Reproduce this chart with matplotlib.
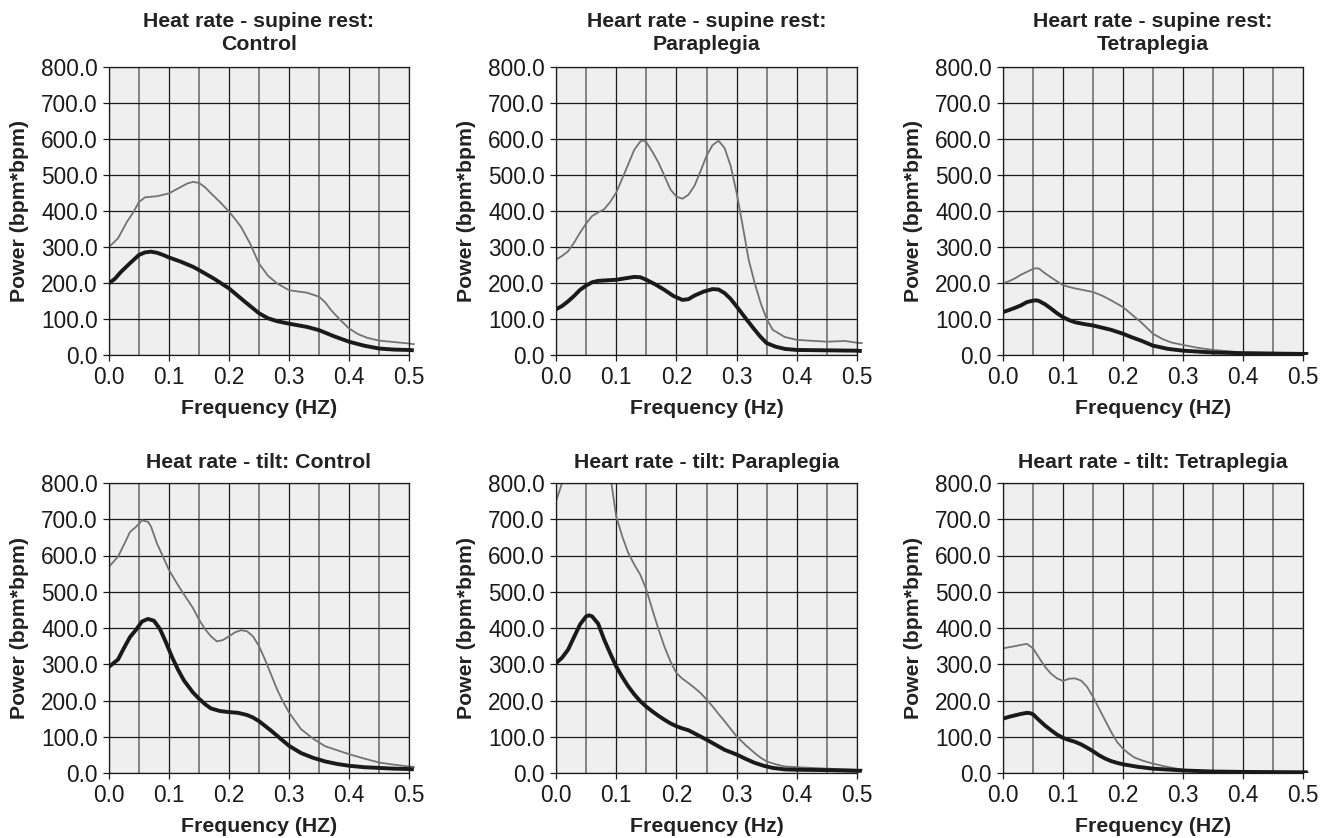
import matplotlib
matplotlib.use("Agg")
import matplotlib.pyplot as plt
from matplotlib.patches import Rectangle
from matplotlib.ticker import MultipleLocator, FormatStrFormatter

plt.rcParams['font.family'] = ['Liberation Sans', 'DejaVu Sans']

# ---------------- data ----------------
titles = [
    "Heat rate - supine rest:\nControl",
    "Heart rate - supine rest:\nParaplegia",
    "Heart rate - supine rest:\nTetraplegia",
    "Heat rate - tilt: Control",
    "Heart rate - tilt: Paraplegia",
    "Heart rate - tilt: Tetraplegia",
]
xlabels = ["Frequency (HZ)", "Frequency (Hz)", "Frequency (HZ)",
           "Frequency (HZ)", "Frequency (Hz)", "Frequency (HZ)"]
ylabel = "Power (bpm*bpm)"
x_ticks = [0.0, 0.1, 0.2, 0.3, 0.4, 0.5]
y_ticks = [0, 100, 200, 300, 400, 500, 600, 700, 800]

# Panel 1: supine rest, Control
p1_gx = [0, 0.015, 0.03, 0.04, 0.05, 0.06, 0.08, 0.1, 0.11, 0.12, 0.13, 0.14, 0.15, 0.16, 0.17, 0.185, 0.2, 0.21, 0.22, 0.235, 0.25, 0.265, 0.28, 0.3, 0.33, 0.35, 0.36, 0.37, 0.385, 0.4, 0.415, 0.43, 0.45, 0.475, 0.5, 0.508]
p1_g = [300, 324, 370, 395, 425, 438, 441, 449, 458, 467, 476, 481, 478, 466, 449, 425, 398, 378, 356, 310, 254, 220, 199, 180, 173, 162, 147, 125, 98, 74, 58, 48, 40, 36, 32, 30]
p1_bx = [0, 0.01, 0.02, 0.035, 0.05, 0.06, 0.07, 0.08, 0.09, 0.1, 0.12, 0.14, 0.15, 0.175, 0.2, 0.225, 0.25, 0.265, 0.28, 0.3, 0.33, 0.35, 0.375, 0.4, 0.425, 0.45, 0.475, 0.5, 0.508]
p1_b = [199, 212, 231, 255, 278, 285, 287, 284, 278, 271, 259, 245, 236, 212, 185, 150, 116, 102, 94, 87, 78, 69, 52, 37, 26, 18, 15, 14, 13]

# Panel 2: supine rest, Paraplegia
p2_gx = [0, 0.01, 0.02, 0.03, 0.04, 0.05, 0.06, 0.07, 0.08, 0.09, 0.1, 0.11, 0.12, 0.13, 0.14, 0.145, 0.15, 0.16, 0.17, 0.18, 0.19, 0.2, 0.21, 0.22, 0.23, 0.24, 0.25, 0.26, 0.27, 0.28, 0.29, 0.3, 0.31, 0.32, 0.33, 0.34, 0.35, 0.36, 0.38, 0.4, 0.45, 0.48, 0.5, 0.508]
p2_g = [265, 275, 288, 312, 340, 365, 386, 396, 405, 425, 451, 490, 530, 570, 593, 596, 591, 565, 535, 498, 460, 440, 434, 445, 470, 510, 553, 583, 595, 575, 526, 451, 360, 265, 200, 144, 100, 70, 50, 42, 37, 39, 34, 33]
p2_bx = [0, 0.01, 0.02, 0.03, 0.04, 0.05, 0.06, 0.07, 0.08, 0.1, 0.115, 0.13, 0.14, 0.15, 0.165, 0.18, 0.195, 0.21, 0.22, 0.23, 0.245, 0.26, 0.27, 0.28, 0.29, 0.3, 0.315, 0.33, 0.34, 0.35, 0.365, 0.38, 0.4, 0.45, 0.5, 0.508]
p2_b = [127, 136, 149, 164, 181, 193, 202, 206, 207, 209, 213, 217, 216, 209, 196, 181, 164, 153, 155, 165, 176, 183, 182, 172, 156, 135, 102, 70, 50, 33, 23, 17, 14, 13, 12, 11]

# Panel 3: supine rest, Tetraplegia
p3_gx = [0, 0.01, 0.02, 0.03, 0.04, 0.05, 0.055, 0.06, 0.07, 0.085, 0.1, 0.11, 0.12, 0.135, 0.15, 0.165, 0.18, 0.2, 0.215, 0.23, 0.25, 0.265, 0.28, 0.3, 0.325, 0.35, 0.4, 0.45, 0.5, 0.508]
p3_g = [199, 205, 213, 223, 231, 239, 241, 240, 227, 210, 194, 189, 185, 180, 175, 165, 152, 133, 112, 91, 59, 45, 35, 28, 20, 14, 7, 6, 5, 5]
p3_bx = [0, 0.01, 0.02, 0.03, 0.04, 0.05, 0.055, 0.06, 0.07, 0.08, 0.09, 0.1, 0.11, 0.12, 0.135, 0.15, 0.165, 0.18, 0.2, 0.215, 0.23, 0.25, 0.275, 0.3, 0.35, 0.4, 0.45, 0.5, 0.508]
p3_b = [119, 125, 131, 138, 147, 151, 152, 150, 141, 129, 116, 105, 97, 91, 86, 82, 76, 70, 59, 49, 40, 26, 17, 12, 7, 5, 4, 3, 3]

# Panel 4: tilt, Control
p4_gx = [0, 0.015, 0.025, 0.035, 0.045, 0.055, 0.065, 0.07, 0.08, 0.09, 0.1, 0.11, 0.12, 0.13, 0.14, 0.15, 0.16, 0.17, 0.18, 0.19, 0.2, 0.21, 0.22, 0.23, 0.24, 0.25, 0.26, 0.27, 0.28, 0.29, 0.3, 0.32, 0.34, 0.36, 0.38, 0.4, 0.425, 0.45, 0.475, 0.5, 0.508]
p4_g = [569, 597, 630, 665, 679, 697, 693, 680, 633, 597, 560, 532, 505, 480, 455, 423, 397, 377, 363, 367, 377, 388, 394, 391, 377, 350, 313, 272, 231, 197, 167, 121, 95, 74, 63, 52, 40, 29, 23, 18, 17]
p4_bx = [0, 0.015, 0.025, 0.035, 0.045, 0.055, 0.065, 0.075, 0.085, 0.095, 0.105, 0.115, 0.125, 0.14, 0.15, 0.16, 0.17, 0.185, 0.2, 0.215, 0.23, 0.24, 0.25, 0.26, 0.27, 0.28, 0.29, 0.3, 0.32, 0.34, 0.36, 0.38, 0.4, 0.425, 0.45, 0.475, 0.5, 0.508]
p4_b = [293, 313, 345, 375, 395, 418, 425, 420, 397, 360, 320, 285, 255, 222, 205, 190, 178, 171, 168, 166, 160, 153, 143, 130, 117, 103, 89, 75, 55, 42, 32, 25, 20, 16, 14, 12, 11, 10]

# Panel 5: tilt, Paraplegia (grey curve leaves the plot above 800)
p5_gx = [0, 0.01, 0.03, 0.05, 0.07, 0.092, 0.1, 0.11, 0.12, 0.13, 0.14, 0.15, 0.16, 0.17, 0.18, 0.19, 0.2, 0.21, 0.22, 0.23, 0.24, 0.25, 0.26, 0.27, 0.28, 0.29, 0.3, 0.315, 0.33, 0.34, 0.35, 0.365, 0.38, 0.4, 0.45, 0.5, 0.508]
p5_g = [749, 800, 950, 1050, 980, 800, 708, 653, 607, 575, 547, 506, 451, 398, 349, 308, 276, 260, 248, 235, 221, 203, 184, 163, 143, 122, 101, 77, 55, 42, 32, 24, 18, 16, 12, 9, 9]
p5_bx = [0, 0.01, 0.02, 0.03, 0.04, 0.05, 0.055, 0.06, 0.07, 0.08, 0.09, 0.1, 0.11, 0.12, 0.13, 0.14, 0.15, 0.16, 0.17, 0.18, 0.19, 0.2, 0.21, 0.22, 0.235, 0.25, 0.265, 0.28, 0.3, 0.315, 0.33, 0.345, 0.36, 0.38, 0.4, 0.45, 0.5, 0.508]
p5_b = [303, 318, 340, 375, 410, 432, 435, 432, 412, 368, 330, 294, 265, 239, 217, 198, 183, 170, 158, 147, 137, 129, 123, 118, 105, 92, 78, 64, 51, 39, 28, 20, 14, 10, 9, 8, 6, 6]

# Panel 6: tilt, Tetraplegia
p6_gx = [0, 0.02, 0.035, 0.04, 0.05, 0.06, 0.07, 0.08, 0.09, 0.1, 0.11, 0.12, 0.13, 0.14, 0.15, 0.16, 0.17, 0.18, 0.19, 0.2, 0.21, 0.22, 0.235, 0.25, 0.265, 0.28, 0.3, 0.35, 0.4, 0.5, 0.508]
p6_g = [344, 350, 355, 356, 344, 318, 293, 274, 261, 254, 260, 261, 255, 238, 210, 178, 146, 114, 86, 67, 53, 42, 33, 26, 20, 15, 9, 4, 2, 1, 1]
p6_bx = [0, 0.01, 0.02, 0.03, 0.04, 0.045, 0.05, 0.06, 0.07, 0.08, 0.09, 0.1, 0.11, 0.12, 0.13, 0.14, 0.15, 0.16, 0.17, 0.18, 0.19, 0.2, 0.225, 0.25, 0.3, 0.35, 0.4, 0.5, 0.508]
p6_b = [150, 155, 159, 163, 166, 165, 162, 146, 131, 118, 106, 97, 91, 86, 79, 70, 60, 49, 40, 33, 28, 24, 17, 12, 7, 4, 3, 2, 2]

grey_series = [(p1_gx, p1_g), (p2_gx, p2_g), (p3_gx, p3_g),
               (p4_gx, p4_g), (p5_gx, p5_g), (p6_gx, p6_g)]
black_series = [(p1_bx, p1_b), (p2_bx, p2_b), (p3_bx, p3_b),
                (p4_bx, p4_b), (p5_bx, p5_b), (p6_bx, p6_b)]

# ---------------- layout ----------------
W, H = 1333, 838
fig = plt.figure(figsize=(W / 100, H / 100), dpi=100)
fig.patch.set_facecolor("white")

cols = [(109, 409), (556, 857), (1003, 1303)]
rows = [(67, 355), (483, 773)]

for i in range(6):
    r, c = divmod(i, 3)
    l, rr = cols[c]
    t, b = rows[r]
    ax = fig.add_axes([l / W, (H - b) / H, (rr - l) / W, (b - t) / H])
    ax.set_facecolor("#efefef")
    ax.set_xlim(0, 0.5)
    ax.set_ylim(0, 800)

    ax.xaxis.set_minor_locator(MultipleLocator(0.05))
    ax.set_xticks(x_ticks)
    ax.set_yticks(y_ticks)
    ax.xaxis.set_major_formatter(FormatStrFormatter("%.1f"))
    ax.yaxis.set_major_formatter(FormatStrFormatter("%.1f"))

    ax.grid(True, which="major", color="#1a1a1a", lw=0.9)
    ax.grid(True, which="minor", axis="x", color="#7a7a7a", lw=1.3)
    ax.set_axisbelow(True)

    ax.tick_params(which="major", direction="out", length=4, width=0.9,
                   labelsize=16.3, colors="#1a1a1a", pad=4)
    ax.tick_params(which="minor", length=0)
    for s in ax.spines.values():
        s.set_color("#1a1a1a")
        s.set_linewidth(0.9)

    clip = Rectangle((0, 0), 1.02, 1, transform=ax.transAxes)
    gx, gy = grey_series[i]
    bx, by = black_series[i]
    lg, = ax.plot(gx, gy, color="#737373", lw=1.3, solid_joinstyle="round")
    lb, = ax.plot(bx, by, color="#1a1a1a", lw=2.8, solid_joinstyle="round",
                  solid_capstyle="butt")
    lg.set_clip_path(clip)
    lb.set_clip_path(clip)

    ax.set_title(titles[i], fontsize=15.3, fontweight="bold", color="#222222",
                 pad=12 if r == 0 else 11, linespacing=1.3)
    ax.set_xlabel(xlabels[i], fontsize=15.3, fontweight="bold", color="#222222",
                  labelpad=7)
    ax.set_ylabel(ylabel, fontsize=15.3, fontweight="bold", color="#222222",
                  labelpad=9)

fig.savefig("out.png", dpi=100, facecolor="white")
